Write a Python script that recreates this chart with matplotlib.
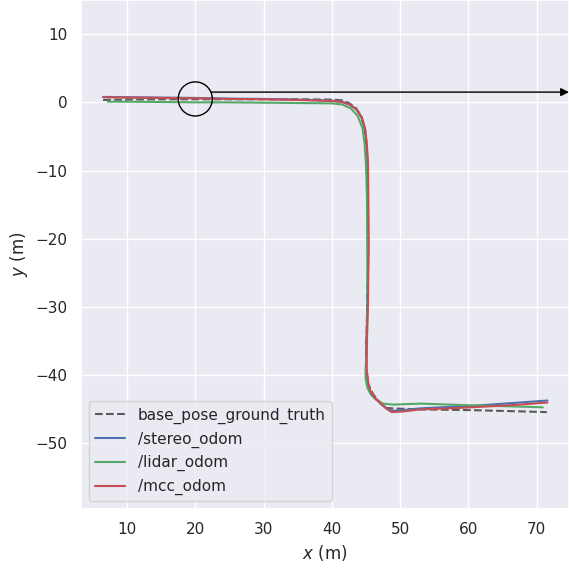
import matplotlib
matplotlib.use("Agg")
import matplotlib.pyplot as plt
import seaborn as sns
from matplotlib.patches import Circle

# ---- data ----
gt_x = [6.5, 10, 15, 20, 25, 30, 35, 40, 41.5, 42.5, 43.5, 44.3, 44.8, 45.0, 45.15,
        45.25, 45.3, 45.2, 45.05, 45.05, 45.3, 46.0, 47.0, 48.0, 50, 53, 60, 66, 71.5]
gt_y = [0.35, 0.4, 0.45, 0.45, 0.45, 0.45, 0.45, 0.4, 0.3, -0.1, -0.8, -2.0, -3.8, -6.0, -9.0,
        -15, -22, -29, -36, -39, -41.2, -42.7, -44.0, -44.8, -44.9, -45.0, -45.1, -45.25, -45.4]

stereo_x = [6.5, 10, 15, 20, 25, 30, 35, 40, 41.5, 42.6, 43.6, 44.4, 44.9, 45.1, 45.25, 45.3,
            45.35, 45.25, 45.05, 45.05, 45.3, 45.6, 46.3, 47.3, 48.0, 48.8, 50.5, 53, 56, 60.3, 66, 71.6]
stereo_y = [0.8, 0.75, 0.7, 0.65, 0.55, 0.5, 0.4, 0.25, 0.1, -0.3, -1.0, -2.2, -4.0, -6.2, -9.0, -14,
            -21, -29, -36, -39, -41.2, -42.3, -43.3, -44.2, -44.8, -45.2, -45.1, -44.85, -44.7, -44.5, -44.1, -43.7]

lidar_x = [7.2, 10, 15, 20, 25, 30, 35, 40, 41.5, 42.8, 43.8, 44.5, 44.8, 45.0, 45.15, 45.2,
           45.25, 45.15, 44.95, 44.95, 45.2, 45.7, 46.5, 47.5, 49.0, 53, 60.3, 66, 70.9]
lidar_y = [0.1, 0.1, 0.05, 0.0, 0.0, -0.05, -0.1, -0.15, -0.3, -0.9, -2.0, -3.8, -6.0, -9.0, -14, -21,
           -29, -36, -39, -40.5, -41.8, -42.8, -43.6, -44.15, -44.3, -44.15, -44.4, -44.55, -44.7]

mcc_x = [6.5, 10, 15, 20, 25, 30, 35, 40, 41.5, 42.6, 43.6, 44.4, 44.9, 45.15, 45.3, 45.35,
         45.4, 45.3, 45.1, 45.1, 45.35, 45.65, 46.3, 47.3, 48.0, 48.8, 50.5, 53, 56, 60.3, 66, 71.6]
mcc_y = [0.75, 0.7, 0.65, 0.6, 0.5, 0.45, 0.35, 0.2, 0.05, -0.35, -1.05, -2.3, -4.1, -6.3, -9.0, -14,
         -21, -29, -36, -39, -41.2, -42.3, -43.3, -44.3, -44.9, -45.4, -45.3, -45.0, -44.9, -44.7, -44.4, -44.0]

labels = ["base_pose_ground_truth", "/stereo_odom", "/lidar_odom", "/mcc_odom"]

sns.set_theme(style="darkgrid")
plt.rcParams['font.family'] = ['DejaVu Sans']

W, H = 569, 572
fig = plt.figure(figsize=(W / 100, H / 100), dpi=100)
ax = fig.add_axes([81 / W, (H - 509) / H, 488 / W, 509 / H])

deep = sns.color_palette("deep")
ax.plot(gt_x, gt_y, '--', color='#5a5a5a', lw=1.5, label=labels[0])
ax.plot(stereo_x, stereo_y, color=deep[0], lw=1.5, label=labels[1])
ax.plot(lidar_x, lidar_y, color=deep[2], lw=1.5, label=labels[2])
ax.plot(mcc_x, mcc_y, color=deep[3], lw=1.5, label=labels[3])

ax.set_xlim(3.26, 74.75)
ax.set_ylim(-59.6, 15.0)
ax.set_xticks([10, 20, 30, 40, 50, 60, 70])
ax.set_yticks([10, 0, -10, -20, -30, -40, -50])

ax.add_patch(Circle((20, 0.5), 2.5, fill=False, edgecolor='black', lw=1.0, zorder=5))
ax.annotate("", xy=(74.75, 1.5), xytext=(22.3, 1.5),
            arrowprops=dict(arrowstyle='-|>', color='black', lw=1.0,
                            mutation_scale=12, shrinkA=0, shrinkB=0),
            annotation_clip=False, zorder=6)

ax.set_xlabel("$x$ (m)")
ax.set_ylabel("$y$ (m)")
ax.legend(loc='lower left')

fig.savefig("out.png", dpi=100)
